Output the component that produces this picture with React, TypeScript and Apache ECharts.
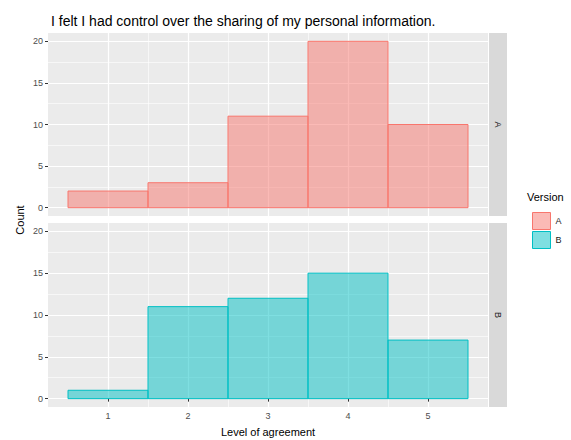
import React, { useEffect, useRef } from "react";
import * as echarts from "echarts";

const levels = [1, 2, 3, 4, 5];
const countsA = [2, 3, 11, 20, 10];
const countsB = [1, 11, 12, 15, 7];
const yTicks = [0, 5, 10, 15, 20];
const yMinor = [2.5, 7.5, 12.5, 17.5];
const xMinor = [1.5, 2.5, 3.5, 4.5];
const versions = ["A", "B"];

const FONT = "'Liberation Sans', Arial, sans-serif";
const COLORS: Record<string, { fill: string; stroke: string }> = {
  A: { fill: "rgba(248,118,109,0.5)", stroke: "#F8766D" },
  B: { fill: "rgba(0,191,196,0.5)", stroke: "#00BFC4" },
};

export default function App() {
  const ref = useRef<HTMLDivElement>(null);
  useEffect(() => {
    if (!ref.current) return;
    const chart = echarts.init(ref.current, undefined, { renderer: "svg" });
    const grids = [
      { left: 48, width: 440, top: 33, height: 183 },
      { left: 48, width: 440, top: 223, height: 184 },
    ];
    const xAxes = grids.map((_, i) => ({
      type: "value",
      gridIndex: i,
      min: 0.25,
      max: 5.75,
      splitLine: { show: false },
      axisLine: { show: false },
      axisTick: {
        show: i === 1,
        customValues: levels,
        length: 3,
        lineStyle: { color: "#333333", width: 1 },
      },
      axisLabel: {
        show: i === 1,
        customValues: levels,
        color: "#4D4D4D",
        fontSize: 9,
        fontFamily: FONT,
        margin: 4,
      },
    }));
    const yAxes = grids.map((_, i) => ({
      type: "value",
      gridIndex: i,
      min: -1,
      max: 21,
      splitLine: { show: false },
      axisLine: { show: false },
      axisTick: {
        show: true,
        customValues: yTicks,
        length: 3,
        lineStyle: { color: "#333333", width: 1 },
      },
      axisLabel: {
        customValues: yTicks,
        color: "#4D4D4D",
        fontSize: 9,
        fontFamily: FONT,
        margin: 5,
      },
    }));
    const gridLineData = [
      ...yMinor.map((v) => ({ yAxis: v, lineStyle: { width: 0.6 } })),
      ...xMinor.map((v) => ({ xAxis: v, lineStyle: { width: 0.6 } })),
      ...yTicks.map((v) => ({ yAxis: v, lineStyle: { width: 1.2 } })),
      ...levels.map((v) => ({ xAxis: v, lineStyle: { width: 1.2 } })),
    ];
    const series: any[] = [];
    versions.forEach((ver, i) => {
      series.push({
        type: "custom",
        name: "grid" + i,
        xAxisIndex: i,
        yAxisIndex: i,
        z: 0,
        silent: true,
        data: [],
        renderItem: () => null,
        markLine: {
          silent: true,
          z: 0,
          symbol: "none",
          label: { show: false },
          lineStyle: { color: "#FFFFFF", type: "solid" },
          data: gridLineData,
        },
      });
    });
    versions.forEach((ver, i) => {
      const vals = ver === "A" ? countsA : countsB;
      series.push({
        type: "custom",
        name: ver,
        xAxisIndex: i,
        yAxisIndex: i,
        z: 5,
        data: levels.map((l, k) => [l, vals[k]]),
        itemStyle: { color: COLORS[ver].fill, borderColor: COLORS[ver].stroke },
        renderItem: (params: any, api: any) => {
          const x = api.value(0);
          const y = api.value(1);
          const p1 = api.coord([x - 0.5, y]);
          const p2 = api.coord([x + 0.5, 0]);
          return {
            type: "rect",
            shape: { x: p1[0], y: p1[1], width: p2[0] - p1[0], height: p2[1] - p1[1] },
            style: { fill: COLORS[ver].fill, stroke: COLORS[ver].stroke, lineWidth: 1 },
          };
        },
      });
    });
    const strips = grids.map((g, i) => ({
      type: "group",
      children: [
        {
          type: "rect",
          shape: { x: 489, y: g.top, width: 18, height: g.height },
          style: { fill: "#D9D9D9" },
        },
        {
          type: "text",
          x: 498,
          y: g.top + g.height / 2,
          rotation: -Math.PI / 2,
          style: {
            text: versions[i],
            fill: "#1A1A1A",
            font: `9px ${FONT}`,
            align: "center",
            verticalAlign: "middle",
          },
        },
      ],
    }));
    chart.setOption({
      animation: false,
      backgroundColor: "#FFFFFF",
      title: {
        text: "I felt I had control over the sharing of my personal information.",
        left: 46,
        top: 9,
        textStyle: { fontSize: 14, fontWeight: "normal", color: "#000000", fontFamily: FONT },
      },
      grid: grids.map((g) => ({ ...g, show: true, backgroundColor: "#EBEBEB", borderWidth: 0 })),
      xAxis: xAxes,
      yAxis: yAxes,
      legend: {
        orient: "vertical",
        left: 527,
        top: 207,
        itemWidth: 18,
        itemHeight: 17,
        itemGap: 1,
        textStyle: { fontSize: 9, color: "#1A1A1A", fontFamily: FONT },
        data: versions.map((v) => ({
          name: v,
          icon: "rect",
          itemStyle: { color: COLORS[v].fill, borderColor: COLORS[v].stroke, borderWidth: 1 },
        })),
      },
      graphic: [
        ...strips,
        {
          type: "text",
          x: 527,
          y: 191,
          style: { text: "Version", fill: "#000000", font: `11px ${FONT}` },
        },
        {
          type: "text",
          x: 20,
          y: 220,
          rotation: Math.PI / 2,
          style: {
            text: "Count",
            fill: "#000000",
            font: `11px ${FONT}`,
            align: "center",
            verticalAlign: "middle",
          },
        },
        {
          type: "text",
          x: 268,
          y: 432,
          style: {
            text: "Level of agreement",
            fill: "#000000",
            font: `11px ${FONT}`,
            align: "center",
            verticalAlign: "middle",
          },
        },
      ],
      series,
    });
    return () => chart.dispose();
  }, []);
  return (
    <div
      ref={ref}
      style={{ position: "fixed", left: 0, top: 0, width: 571, height: 440 }}
    />
  );
}
